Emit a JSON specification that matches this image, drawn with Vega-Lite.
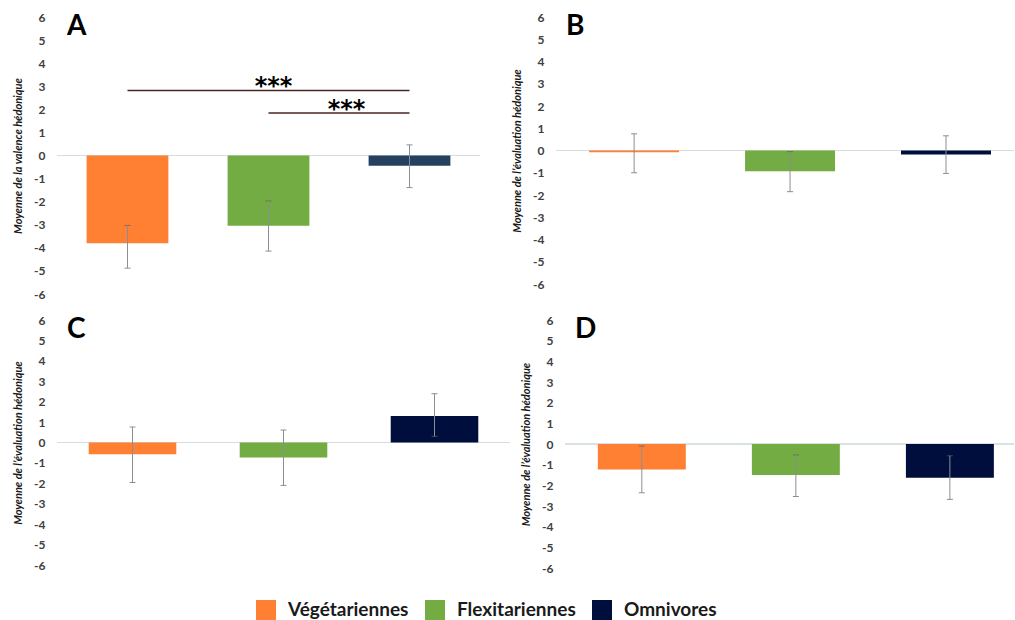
{
  "$schema": "https://vega.github.io/schema/vega-lite/v6.json",
  "padding": {"left": 12, "top": 11, "right": 0, "bottom": 0},
  "background": "white",
  "datasets": {
    "barres": [
      {"panel": "A", "groupe": "Végétariennes", "moyenne": -3.8, "bas": -4.88, "haut": -3.03},
      {"panel": "A", "groupe": "Flexitariennes", "moyenne": -3.04, "bas": -4.14, "haut": -1.97},
      {"panel": "A", "groupe": "Omnivores", "moyenne": -0.44, "bas": -1.39, "haut": 0.46},
      {"panel": "B", "groupe": "Végétariennes", "moyenne": -0.08, "bas": -1.0, "haut": 0.75},
      {"panel": "B", "groupe": "Flexitariennes", "moyenne": -0.93, "bas": -1.85, "haut": -0.05},
      {"panel": "B", "groupe": "Omnivores", "moyenne": -0.18, "bas": -1.03, "haut": 0.66},
      {"panel": "C", "groupe": "Végétariennes", "moyenne": -0.58, "bas": -1.96, "haut": 0.76},
      {"panel": "C", "groupe": "Flexitariennes", "moyenne": -0.73, "bas": -2.1, "haut": 0.61},
      {"panel": "C", "groupe": "Omnivores", "moyenne": 1.3, "bas": 0.3, "haut": 2.39},
      {"panel": "D", "groupe": "Végétariennes", "moyenne": -1.23, "bas": -2.36, "haut": -0.1},
      {"panel": "D", "groupe": "Flexitariennes", "moyenne": -1.5, "bas": -2.54, "haut": -0.53},
      {"panel": "D", "groupe": "Omnivores", "moyenne": -1.63, "bas": -2.68, "haut": -0.57}
    ],
    "signif": [
      {"de": "Végétariennes", "a": "Omnivores", "niveau": 2.82, "etoiles": "***", "milieu": "Flexitariennes"},
      {"de": "Flexitariennes", "a": "Omnivores", "niveau": 1.84, "etoiles": "***", "milieu": "Omnivores"}
    ]
  },
  "resolve": {"scale": {"color": "shared"}, "legend": {"color": "shared"}},
  "spacing": 14,
  "vconcat": [
    {
      "spacing": 30,
      "resolve": {"scale": {"color": "shared"}, "legend": {"color": "shared"}},
      "hconcat": [
        {
          "width": 423, "height": 277,
          "title": {"text": "A"},
          "layer": [
            {"data": {"values": [{}]}, "mark": {"type": "rule", "color": "#d5dde0", "strokeWidth": 1},
             "encoding": {"y": {"datum": 0, "type": "quantitative", "scale": {"domain": [-6, 6], "nice": false}, "title": "Moyenne de la valence hédonique", "axis": {"values": [-6, -5, -4, -3, -2, -1, 0, 1, 2, 3, 4, 5, 6]}}}},
            {"data": {"name": "barres"}, "transform": [{"filter": "datum.panel == 'A' && datum.groupe != 'Omnivores'"}],
             "mark": {"type": "bar"},
             "encoding": {
               "x": {"field": "groupe", "type": "nominal", "scale": {"domain": ["Végétariennes", "Flexitariennes", "Omnivores"], "paddingInner": 0.42, "paddingOuter": 0.21}, "axis": null},
               "y": {"field": "moyenne", "type": "quantitative", "scale": {"domain": [-6, 6], "nice": false}, "title": "Moyenne de la valence hédonique", "axis": {"values": [-6, -5, -4, -3, -2, -1, 0, 1, 2, 3, 4, 5, 6]}},
               "color": {"field": "groupe", "type": "nominal", "scale": {"domain": ["Végétariennes", "Flexitariennes", "Omnivores"], "range": ["#ff7f33", "#72ac42", "#000e3d"]}, "legend": {"orient": "none", "legendX": 199, "legendY": 583, "direction": "horizontal", "title": null}}
             }},
            {"data": {"name": "barres"}, "transform": [{"filter": "datum.panel == 'A' && datum.groupe == 'Omnivores'"}],
             "mark": {"type": "bar", "color": "#26415f"},
             "encoding": {
               "x": {"field": "groupe", "type": "nominal", "axis": null},
               "y": {"field": "moyenne", "type": "quantitative", "title": "Moyenne de la valence hédonique"}
             }},
            {"data": {"name": "barres"}, "transform": [{"filter": "datum.panel == 'A'"}],
             "mark": {"type": "errorbar", "color": "#8a8f94", "thickness": 1, "ticks": {"size": 6, "color": "#5a5f64"}},
             "encoding": {
               "x": {"field": "groupe", "type": "nominal", "axis": null},
               "y": {"field": "bas", "type": "quantitative", "title": "Moyenne de la valence hédonique"},
               "y2": {"field": "haut"}
             }},
            {"data": {"name": "signif"},
             "mark": {"type": "rule", "color": "#4a2424", "strokeWidth": 1.5},
             "encoding": {
               "x": {"field": "de", "type": "nominal", "axis": null},
               "x2": {"field": "a"},
               "y": {"field": "niveau", "type": "quantitative", "title": "Moyenne de la valence hédonique"}
             }},
            {"data": {"name": "signif"}, "transform": [{"filter": "datum.de == 'Végétariennes'"}],
             "mark": {"type": "text", "font": "DejaVu Sans", "fontSize": 24, "fontWeight": "bold", "color": "#000", "baseline": "alphabetic", "dx": 5, "dy": 4},
             "encoding": {
               "x": {"field": "milieu", "type": "nominal", "axis": null},
               "y": {"field": "niveau", "type": "quantitative", "title": "Moyenne de la valence hédonique"},
               "text": {"field": "etoiles"}
             }},
            {"data": {"name": "signif"}, "transform": [{"filter": "datum.de == 'Flexitariennes'"}],
             "mark": {"type": "text", "font": "DejaVu Sans", "fontSize": 24, "fontWeight": "bold", "color": "#000", "baseline": "alphabetic", "dx": -63, "dy": 4},
             "encoding": {
               "x": {"field": "milieu", "type": "nominal", "axis": null},
               "y": {"field": "niveau", "type": "quantitative", "title": "Moyenne de la valence hédonique"},
               "text": {"field": "etoiles"}
             }}
          ]
        },
        {
          "width": 458, "height": 267,
          "title": {"text": "B"},
          "data": {"name": "barres"},
          "transform": [{"filter": "datum.panel == 'B'"}],
          "layer": [
            {"mark": {"type": "rule", "color": "#d5dde0", "strokeWidth": 1},
             "encoding": {"y": {"datum": 0, "type": "quantitative", "scale": {"domain": [-6, 6], "nice": false}, "title": "Moyenne de l’évaluation hédonique", "axis": {"values": [-6, -5, -4, -3, -2, -1, 0, 1, 2, 3, 4, 5, 6]}}}},
            {"mark": {"type": "bar"},
             "encoding": {
               "x": {"field": "groupe", "type": "nominal", "scale": {"domain": ["Végétariennes", "Flexitariennes", "Omnivores"], "paddingInner": 0.423, "paddingOuter": 0.18, "align": 0.59}, "axis": null},
               "y": {"field": "moyenne", "type": "quantitative", "scale": {"domain": [-6, 6], "nice": false}, "title": "Moyenne de l’évaluation hédonique", "axis": {"values": [-6, -5, -4, -3, -2, -1, 0, 1, 2, 3, 4, 5, 6]}},
               "color": {"field": "groupe", "type": "nominal", "scale": {"domain": ["Végétariennes", "Flexitariennes", "Omnivores"], "range": ["#ff7f33", "#72ac42", "#000e3d"]}, "legend": {"orient": "none", "legendX": 199, "legendY": 583, "direction": "horizontal", "title": null}}
             }},
            {"mark": {"type": "errorbar", "color": "#8a8f94", "thickness": 1, "ticks": {"size": 6, "color": "#5a5f64"}},
             "encoding": {
               "x": {"field": "groupe", "type": "nominal", "axis": null},
               "y": {"field": "bas", "type": "quantitative", "title": "Moyenne de l’évaluation hédonique"},
               "y2": {"field": "haut"}
             }}
          ]
        }
      ]
    },
    {
      "spacing": 9,
      "resolve": {"scale": {"color": "shared"}, "legend": {"color": "shared"}},
      "hconcat": [
        {
          "width": 453, "height": 245,
          "title": {"text": "C"},
          "data": {"name": "barres"},
          "transform": [{"filter": "datum.panel == 'C'"}],
          "layer": [
            {"mark": {"type": "rule", "color": "#d5dde0", "strokeWidth": 1},
             "encoding": {"y": {"datum": 0, "type": "quantitative", "scale": {"domain": [-6, 6], "nice": false}, "title": "Moyenne de l’évaluation hédonique", "axis": {"values": [-6, -5, -4, -3, -2, -1, 0, 1, 2, 3, 4, 5, 6]}}}},
            {"mark": {"type": "bar"},
             "encoding": {
               "x": {"field": "groupe", "type": "nominal", "scale": {"domain": ["Végétariennes", "Flexitariennes", "Omnivores"], "paddingInner": 0.42, "paddingOuter": 0.21}, "axis": null},
               "y": {"field": "moyenne", "type": "quantitative", "scale": {"domain": [-6, 6], "nice": false}, "title": "Moyenne de l’évaluation hédonique", "axis": {"values": [-6, -5, -4, -3, -2, -1, 0, 1, 2, 3, 4, 5, 6]}},
               "color": {"field": "groupe", "type": "nominal", "scale": {"domain": ["Végétariennes", "Flexitariennes", "Omnivores"], "range": ["#ff7f33", "#72ac42", "#000e3d"]}, "legend": {"orient": "none", "legendX": 199, "legendY": 583, "direction": "horizontal", "title": null}}
             }},
            {"mark": {"type": "errorbar", "color": "#8a8f94", "thickness": 1, "ticks": {"size": 6, "color": "#5a5f64"}},
             "encoding": {
               "x": {"field": "groupe", "type": "nominal", "axis": null},
               "y": {"field": "bas", "type": "quantitative", "title": "Moyenne de l’évaluation hédonique"},
               "y2": {"field": "haut"}
             }}
          ]
        },
        {
          "width": 449, "height": 248,
          "title": {"text": "D"},
          "data": {"name": "barres"},
          "transform": [{"filter": "datum.panel == 'D'"}],
          "layer": [
            {"mark": {"type": "rule", "color": "#d5dde0", "strokeWidth": 1},
             "encoding": {"y": {"datum": 0, "type": "quantitative", "scale": {"domain": [-6, 6], "nice": false}, "title": "Moyenne de l’évaluation hédonique", "axis": {"values": [-6, -5, -4, -3, -2, -1, 0, 1, 2, 3, 4, 5, 6]}}}},
            {"mark": {"type": "bar"},
             "encoding": {
               "x": {"field": "groupe", "type": "nominal", "scale": {"domain": ["Végétariennes", "Flexitariennes", "Omnivores"], "paddingInner": 0.429, "paddingOuter": 0.172, "align": 0.62}, "axis": null},
               "y": {"field": "moyenne", "type": "quantitative", "scale": {"domain": [-6, 6], "nice": false}, "title": "Moyenne de l’évaluation hédonique", "axis": {"values": [-6, -5, -4, -3, -2, -1, 0, 1, 2, 3, 4, 5, 6]}},
               "color": {"field": "groupe", "type": "nominal", "scale": {"domain": ["Végétariennes", "Flexitariennes", "Omnivores"], "range": ["#ff7f33", "#72ac42", "#000e3d"]}, "legend": {"orient": "none", "legendX": 199, "legendY": 583, "direction": "horizontal", "title": null}}
             }},
            {"mark": {"type": "errorbar", "color": "#8a8f94", "thickness": 1, "ticks": {"size": 6, "color": "#5a5f64"}},
             "encoding": {
               "x": {"field": "groupe", "type": "nominal", "axis": null},
               "y": {"field": "bas", "type": "quantitative", "title": "Moyenne de l’évaluation hédonique"},
               "y2": {"field": "haut"}
             }}
          ]
        }
      ]
    }
  ],
  "config": {
    "view": {"stroke": null},
    "axisY": {
      "domain": false, "ticks": false, "grid": false, "labelOverlap": false, "tickCount": 13,
      "labelExpr": "'' + datum.value",
      "labelFont": "Lato", "labelFontSize": 12, "labelFontWeight": "bold", "labelColor": "#404040", "labelPadding": 12,
      "titleFont": "Lato", "titleFontSize": 11, "titleFontStyle": "italic", "titleFontWeight": "bold", "titleColor": "#1a1a1a", "titlePadding": 10
    },
    "title": {"font": "Lato", "fontSize": 28, "fontWeight": "bold", "color": "#000000", "anchor": "start", "frame": "group", "offset": -30, "dx": 10},
    "legend": {
      "symbolType": "square", "symbolSize": 400, "symbolStrokeWidth": 0, "symbolOpacity": 1,
      "labelFont": "Lato", "labelFontSize": 19, "labelFontWeight": "bold", "labelColor": "#1a1a1a",
      "labelOffset": 12, "columnPadding": 16, "padding": 0, "labelLimit": 300
    }
  }
}
